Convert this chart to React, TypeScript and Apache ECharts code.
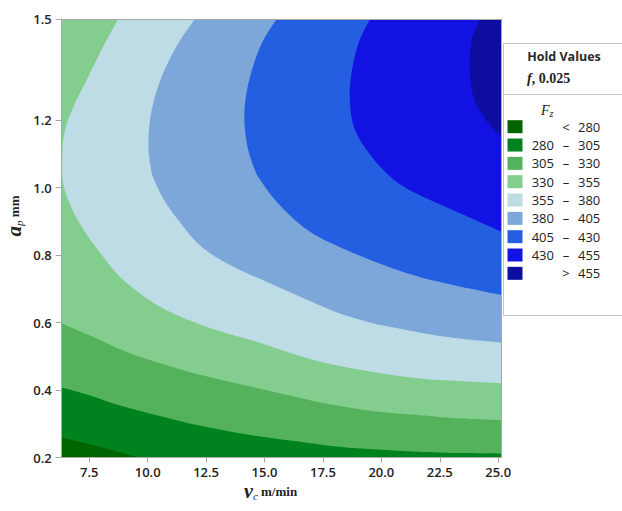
import React, { useRef, useEffect } from 'react'
import * as echarts from 'echarts'

// axis range of the contour plot
const XMIN = 6.32
const XMAX = 25.15
const YMIN = 0.2
const YMAX = 1.5

const xTicks = [7.5, 10, 12.5, 15, 17.5, 20, 22.5, 25]
const yTicks = [0.2, 0.4, 0.6, 0.8, 1.0, 1.2, 1.5]

// Fz contour levels and band colours (lowest band first)
const levels = [280, 305, 330, 355, 380, 405, 430, 455]
const bandColors = ['#006400', '#00821f', '#54b25c', '#83cd8f', '#bddce6', '#7da7d9', '#245fe2', '#1212e3', '#0d0d9f']

// contour lines [vc, ap]
const contour280 = [[6.32, 0.26], [7.89, 0.233], [9.67, 0.2]]
const contour305 = [[6.32, 0.408], [7.46, 0.386], [8.89, 0.353], [10.31, 0.327], [11.74, 0.302], [13.17, 0.282], [14.59, 0.265], [16.2, 0.25], [17.5, 0.238], [18.95, 0.228], [20.35, 0.222], [21.8, 0.217], [23.2, 0.214], [25.15, 0.212]]
const contour330 = [[6.32, 0.598], [7.46, 0.564], [8.89, 0.519], [10.31, 0.484], [11.74, 0.455], [13.17, 0.43], [14.59, 0.408], [16.2, 0.382], [17.5, 0.362], [18.95, 0.345], [20.35, 0.333], [21.8, 0.325], [23.2, 0.317], [25.15, 0.311]]
const contour355 = [[8.74, 1.5], [8.17, 1.428], [7.46, 1.329], [6.82, 1.24], [6.46, 1.171], [6.35, 1.103], [6.36, 1.023], [6.6, 0.964], [7.0, 0.905], [7.55, 0.845], [8.2, 0.786], [8.81, 0.736], [9.65, 0.687], [10.53, 0.647], [11.5, 0.615], [13.17, 0.573], [14.59, 0.545], [16.2, 0.508], [17.52, 0.482], [18.95, 0.462], [20.37, 0.446], [21.8, 0.434], [23.23, 0.427], [25.15, 0.42]]
const contour380 = [[12.02, 1.5], [11.31, 1.428], [10.6, 1.329], [10.17, 1.23], [10.03, 1.132], [10.15, 1.052], [10.3, 1.02], [10.7, 0.964], [11.3, 0.905], [12.0, 0.845], [12.67, 0.806], [13.66, 0.766], [14.8, 0.73], [15.95, 0.695], [17.09, 0.66], [18.23, 0.627], [19.5, 0.601], [20.37, 0.588], [21.8, 0.569], [23.23, 0.554], [25.15, 0.541]]
const contour405 = [[15.52, 1.5], [14.88, 1.428], [14.38, 1.329], [14.14, 1.23], [14.24, 1.132], [14.59, 1.052], [14.9, 1.015], [15.5, 0.96], [16.31, 0.904], [17.3, 0.855], [18.75, 0.808], [20.2, 0.768], [21.6, 0.736], [23.05, 0.712], [25.15, 0.682]]
const contour430 = [[19.52, 1.5], [19.02, 1.428], [18.7, 1.329], [18.66, 1.25], [18.87, 1.171], [19.59, 1.092], [20.55, 1.023], [21.5, 0.983], [22.7, 0.945], [24.25, 0.897], [25.15, 0.87]]
const contour455 = [[24.2, 1.5], [23.84, 1.428], [23.8, 1.329], [24.04, 1.25], [24.58, 1.191], [25.15, 1.151]]

const contours = [contour280, contour305, contour330, contour355, contour380, contour405, contour430, contour455]

const edgeOf = (p) => {
  const eps = 1e-6
  if (p[1] <= YMIN + eps) return 0 // bottom
  if (p[0] >= XMAX - eps) return 1 // right
  if (p[1] >= YMAX - eps) return 2 // top
  return 3 // left
}
// corner reached when leaving edge i counter-clockwise
const corners = [[XMAX, YMIN], [XMAX, YMAX], [XMIN, YMAX], [XMIN, YMIN]]

function bandPath(i, api) {
  if (i === 0) {
    const c = corners.map((p) => api.coord(p))
    return 'M' + c.map((p) => p.join(',')).join('L') + 'Z'
  }
  const line = contours[i - 1]
  const pts = line.map((p) => api.coord(p))
  let d = 'M' + pts[0].join(',')
  for (let k = 0; k < pts.length - 1; k++) {
    const p0 = pts[Math.max(k - 1, 0)]
    const p1 = pts[k]
    const p2 = pts[k + 1]
    const p3 = pts[Math.min(k + 2, pts.length - 1)]
    const c1 = [p1[0] + (p2[0] - p0[0]) / 6, p1[1] + (p2[1] - p0[1]) / 6]
    const c2 = [p2[0] - (p3[0] - p1[0]) / 6, p2[1] - (p3[1] - p1[1]) / 6]
    d += 'C' + c1.join(',') + ' ' + c2.join(',') + ' ' + p2.join(',')
  }
  const start = edgeOf(line[0])
  let edge = edgeOf(line[line.length - 1])
  let guard = 0
  while (edge !== start && guard < 4) {
    d += 'L' + api.coord(corners[edge]).join(',')
    edge = (edge + 1) % 4
    guard++
  }
  return d + 'Z'
}

function legendGraphics() {
  const items = []
  const font = '"Open Sans", "DejaVu Sans", sans-serif'
  const serif = '"Liberation Serif", serif'
  items.push({
    type: 'rect',
    shape: { x: 503.5, y: 43.5, width: 140, height: 272 },
    style: { fill: '#fff', stroke: '#c4c4c4', lineWidth: 1 },
  })
  items.push({
    type: 'line',
    shape: { x1: 503.5, y1: 94.5, x2: 622, y2: 94.5 },
    style: { stroke: '#c4c4c4', lineWidth: 1 },
  })
  items.push({
    type: 'text',
    x: 564,
    y: 56,
    style: { text: 'Hold Values', font: `bold 12.5px ${font}`, fill: '#2a2a2a', align: 'center', verticalAlign: 'middle' },
  })
  items.push({
    type: 'text',
    x: 527,
    y: 78,
    style: {
      text: '{f|f}{v|, 0.025}',
      verticalAlign: 'middle',
      rich: {
        f: { fontFamily: serif, fontStyle: 'italic', fontWeight: 'bold', fontSize: 14, fill: '#222' },
        v: { fontFamily: serif, fontWeight: 'bold', fontSize: 14, fill: '#222' },
      },
    },
  })
  items.push({
    type: 'text',
    x: 541,
    y: 110,
    style: {
      text: '{F|F}{z|z}',
      verticalAlign: 'middle',
      rich: {
        F: { fontFamily: serif, fontStyle: 'italic', fontSize: 14, fill: '#222', lineHeight: 15 },
        z: { fontFamily: serif, fontStyle: 'italic', fontSize: 10, fill: '#222', verticalAlign: 'bottom', padding: [6, 0, 0, 0] },
      },
    },
  })
  const labelStyle = { font: `13px ${font}`, fill: '#222', verticalAlign: 'middle' }
  bandColors.forEach((color, i) => {
    const y = 126.7 + i * 18.33
    const first = i === 0
    const last = i === levels.length
    items.push({
      type: 'rect',
      shape: { x: 507.5, y: y - 6.5, width: 15, height: 13 },
      style: { fill: color },
    })
    const lo = first || last ? '' : String(levels[i - 1])
    const sep = first ? '<' : last ? '>' : '–'
    const hi = last ? String(levels[i - 1]) : String(levels[i])
    items.push({ type: 'text', x: 554, y, style: { ...labelStyle, text: lo, align: 'right' } })
    items.push({ type: 'text', x: 566, y, style: { ...labelStyle, text: sep, align: 'center' } })
    items.push({ type: 'text', x: 578, y, style: { ...labelStyle, text: hi, align: 'left' } })
  })
  return items
}

function ContourChart() {
  const chartRef = useRef(null)

  useEffect(() => {
    const chart = echarts.init(chartRef.current, null, { renderer: 'svg' })

    const tickFont = '"Open Sans", "DejaVu Sans", sans-serif'
    const axisColor = '#a8a8a8'
    const serif = '"Liberation Serif", "DejaVu Serif", serif'

    const option = {
      animation: false,
      grid: { left: 61.7, right: 120.3, top: 19, bottom: 53.3 },
      xAxis: [
        {
          type: 'value',
          min: XMIN,
          max: XMAX,
          z: 10,
          axisLine: { show: true, onZero: false, lineStyle: { color: axisColor } },
          axisTick: { show: true, length: 5, customValues: xTicks, lineStyle: { color: axisColor } },
          axisLabel: {
            customValues: xTicks,
            formatter: (v) => v.toFixed(1),
            margin: 8,
            fontFamily: tickFont,
            fontSize: 13,
            fontWeight: 600,
            color: '#222',
          },
          splitLine: { show: false },
        },
        {
          type: 'value',
          position: 'top',
          min: XMIN,
          max: XMAX,
          z: 10,
          axisLine: { show: true, onZero: false, lineStyle: { color: axisColor } },
          axisTick: { show: false },
          axisLabel: { show: false },
          splitLine: { show: false },
        },
      ],
      yAxis: [
        {
          type: 'value',
          min: YMIN,
          max: YMAX,
          z: 10,
          axisLine: { show: true, onZero: false, lineStyle: { color: axisColor } },
          axisTick: { show: true, length: 6, customValues: yTicks, lineStyle: { color: axisColor } },
          axisLabel: {
            customValues: yTicks,
            formatter: (v) => v.toFixed(1),
            margin: 10,
            fontFamily: tickFont,
            fontSize: 13,
            fontWeight: 600,
            color: '#222',
          },
          splitLine: { show: false },
        },
        {
          type: 'value',
          position: 'right',
          min: YMIN,
          max: YMAX,
          z: 10,
          axisLine: { show: true, onZero: false, lineStyle: { color: axisColor } },
          axisTick: { show: false },
          axisLabel: { show: false },
          splitLine: { show: false },
        },
      ],
      series: [
        {
          type: 'custom',
          xAxisIndex: 0,
          yAxisIndex: 0,
          clip: true,
          silent: true,
          data: bandColors.map((_, i) => [i]),
          renderItem: (params, api) => ({
            type: 'path',
            shape: { pathData: bandPath(params.dataIndex, api) },
            style: { fill: bandColors[params.dataIndex] },
          }),
        },
      ],
      graphic: [
        ...legendGraphics(),
        {
          type: 'text',
          x: 244,
          y: 491,
          style: {
            text: '{v|v}{c|c}{u| m/min}',
            verticalAlign: 'middle',
            rich: {
              v: { fontFamily: serif, fontStyle: 'italic', fontWeight: 'bold', fontSize: 20, fill: '#222', lineHeight: 20 },
              c: { fontFamily: serif, fontStyle: 'italic', fontSize: 11, fill: '#222', verticalAlign: 'bottom', padding: [6, 0, 0, 0] },
              u: { fontFamily: serif, fontWeight: 'bold', fontSize: 13, fill: '#222' },
            },
          },
        },
        {
          type: 'text',
          x: 14,
          y: 216,
          rotation: Math.PI / 2,
          style: {
            text: '{a|a}{p|p}{u| mm}',
            align: 'center',
            verticalAlign: 'middle',
            rich: {
              a: { fontFamily: serif, fontStyle: 'italic', fontWeight: 'bold', fontSize: 21, fill: '#222', lineHeight: 20 },
              p: { fontFamily: serif, fontStyle: 'italic', fontSize: 11, fill: '#222', verticalAlign: 'bottom', padding: [6, 0, 0, 0] },
              u: { fontFamily: serif, fontWeight: 'bold', fontSize: 13, fill: '#222' },
            },
          },
        },
      ],
    }

    chart.setOption(option)

    return () => {
      chart.dispose()
    }
  }, [])

  return <div ref={chartRef} style={{ position: 'absolute', left: 0, top: 0, width: 622, height: 511 }}></div>
}

export default function App() {
  return <ContourChart />
}
